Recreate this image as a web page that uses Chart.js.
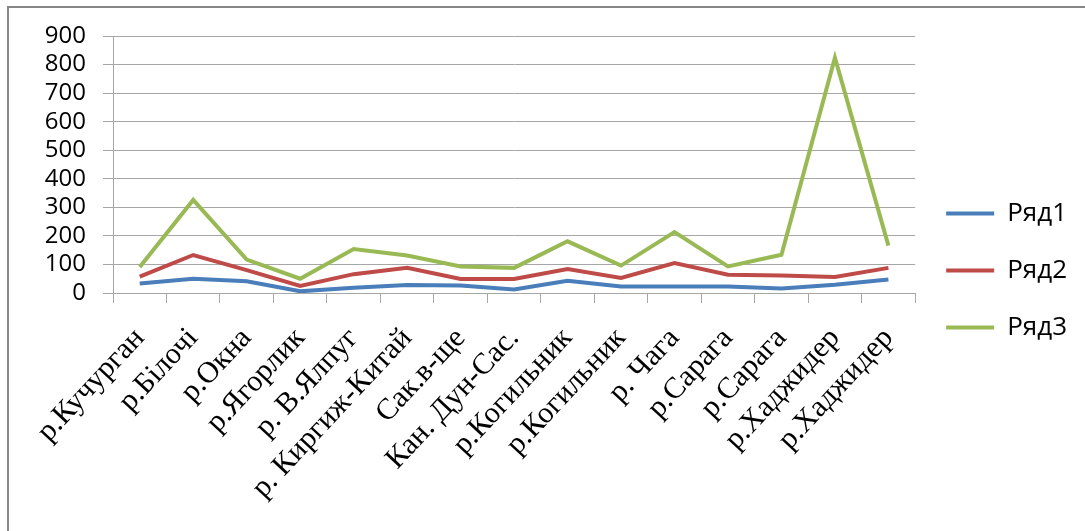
<!DOCTYPE html>
<html>
<head>
<meta charset="utf-8">
<script src="https://cdn.jsdelivr.net/npm/chart.js@4"></script>
<style>
  html, body { margin: 0; padding: 0; background: #fff; }
  #wrap { position: relative; width: 1085px; height: 531px; overflow: hidden; }
  #frame {
    position: absolute; left: 7px; top: 6px; width: 1200px; height: 600px;
    border-left: 2px solid #878787; border-top: 2px solid #878787;
  }
  #chart { position: absolute; left: 0; top: 0; }
</style>
</head>
<body>
<div id="wrap">
  <div id="frame"></div>
  <canvas id="chart" width="1085" height="531"></canvas>
</div>
<script>
const categories = [
  "р.Кучурган", "р.Білочі", "р.Окна", "р.Ягорлик", "р. В.Ялпуг",
  "р. Киргиж-Китай", "Сак.в-ще", "Кан. Дун-Сас.", "р.Когильник", "р.Когильник",
  "р. Чага", "р.Сарага", "р.Сарага", "р.Хаджидер", "р.Хаджидер"
];
const seriesNames = ["Ряд1", "Ряд2", "Ряд3"];
const row1 = [33, 50, 41, 6, 18, 28, 26, 12, 43, 23, 23, 23, 16, 29, 47];
const row2 = [57, 133, 80, 25, 66, 88, 49, 49, 84, 53, 105, 64, 61, 56, 88];
const row3 = [91, 326, 117, 50, 154, 131, 93, 88, 181, 96, 213, 93, 134, 824, 166];
const yTicks = { min: 0, max: 900, step: 100 };
const colors = ["#4a7ebb", "#be4b48", "#98b954"];

const gridColor = "#a6a6a6";
const sans = "'Open Sans', 'Liberation Sans', sans-serif";

const datasets = [row1, row2, row3].map((values, i) => ({
  label: seriesNames[i],
  data: values,
  borderColor: colors[i],
  backgroundColor: colors[i],
  borderWidth: 4,
  pointRadius: 0,
  tension: 0,
  borderJoinStyle: "miter"
}));

new Chart(document.getElementById("chart"), {
  type: "line",
  data: { labels: categories, datasets },
  options: {
    responsive: false,
    animation: false,
    layout: { padding: { top: 36, right: 8, bottom: 26, left: 0 } },
    plugins: {
      tooltip: { enabled: false },
      legend: {
        position: "right",
        labels: {
          color: "#000",
          font: { family: sans, size: 26 },
          boxWidth: 48,
          boxHeight: 4,
          padding: 31,
          generateLabels: chart => chart.data.datasets.map((ds, i) => ({
            text: ds.label,
            fillStyle: ds.borderColor,
            strokeStyle: ds.borderColor,
            lineWidth: 0,
            datasetIndex: i
          }))
        }
      }
    },
    scales: {
      x: {
        offset: true,
        grid: {
          offset: true,
          drawOnChartArea: false,
          drawTicks: true,
          tickLength: 10,
          color: gridColor
        },
        border: { color: gridColor, width: 1 },
        ticks: {
          autoSkip: false,
          minRotation: 47,
          maxRotation: 47,
          padding: 18,
          color: "#000",
          font: { family: "'Liberation Serif', 'Times New Roman', serif", size: 30 }
        },
        // labels hang below; the axis box only sets where the plot ends
        afterFit: scale => { scale.height = 212; }
      },
      y: {
        min: yTicks.min,
        max: yTicks.max,
        grid: { color: gridColor, tickLength: 10 },
        border: { color: gridColor, width: 1 },
        ticks: {
          stepSize: yTicks.step,
          autoSkip: false,
          padding: 17,
          color: "#000",
          font: { family: sans, size: 24 }
        },
        afterFit: scale => { scale.width = 113; }
      }
    }
  }
});
</script>
</body>
</html>
